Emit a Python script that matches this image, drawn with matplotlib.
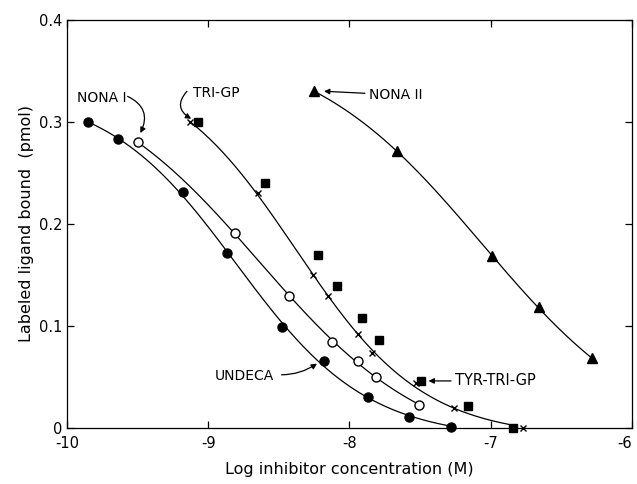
import numpy as np
import matplotlib
matplotlib.use('Agg')
import matplotlib.pyplot as plt

plt.rcParams['font.family'] = ['DejaVu Sans']
plt.rcParams['axes.unicode_minus'] = False

# UNDECA (filled circles)
undeca_x = [-9.85, -9.64, -9.18, -8.87, -8.48, -8.18, -7.87, -7.58, -7.28]
undeca_y = [0.300, 0.283, 0.231, 0.171, 0.099, 0.066, 0.030, 0.011, 0.001]

# NONA I (open circles)
nona1_x = [-9.50, -8.81, -8.43, -8.12, -7.94, -7.81, -7.51]
nona1_y = [0.280, 0.191, 0.129, 0.084, 0.066, 0.050, 0.022]

# TYR-TRI-GP (filled squares)
tyr_x = [-9.07, -8.60, -8.22, -8.09, -7.91, -7.79, -7.49, -7.16, -6.84]
tyr_y = [0.300, 0.240, 0.169, 0.139, 0.108, 0.086, 0.046, 0.021, 0.0]

# TRI-GP (crosses)
tri_x = [-9.13, -8.65, -8.26, -8.15, -7.94, -7.84, -7.53, -7.26, -6.77]
tri_y = [0.300, 0.230, 0.150, 0.129, 0.092, 0.073, 0.044, 0.019, 0.0]

# NONA II (filled triangles)
nona2_x = [-8.25, -7.66, -6.99, -6.66, -6.28]
nona2_y = [0.330, 0.271, 0.168, 0.118, 0.068]

x_ticks = [-10, -9, -8, -7, -6]
y_ticks = [0, 0.1, 0.2, 0.3, 0.4]
y_tick_labels = ['0', '0.1', '0.2', '0.3', '0.4']

fig = plt.figure(figsize=(6.37, 4.84), dpi=100)
ax = fig.add_axes([0.105, 0.116, 0.887, 0.843])


def logistic_fit(xs, ys, x0, x1):
    # 4-parameter logistic: grid over midpoint/slope, top & bottom by least squares
    xs = np.asarray(xs)
    ys = np.asarray(ys)
    best = None
    for mid in np.linspace(-10, -5, 251):
        for h in np.linspace(0.3, 3, 136):
            s = 1 / (1 + 10 ** (h * (xs - mid)))
            A = np.column_stack([s, np.ones_like(s)])
            p, *_ = np.linalg.lstsq(A, ys, rcond=None)
            err = np.sum((A @ p - ys) ** 2)
            if best is None or err < best[0]:
                best = (err, mid, h, p)
    _, mid, h, p = best
    xx = np.linspace(x0, x1, 200)
    return xx, p[0] / (1 + 10 ** (h * (xx - mid))) + p[1]


# smooth fitted curves
for xs, ys, x0, x1 in [(undeca_x, undeca_y, undeca_x[0], undeca_x[-1]),
                       (nona1_x, nona1_y, nona1_x[0], nona1_x[-1]),
                       (tri_x, tri_y, tri_x[0], tyr_x[-1]),
                       (nona2_x, nona2_y, nona2_x[0], nona2_x[-1])]:
    xx, yy = logistic_fit(xs, ys, x0, x1)
    ax.plot(xx, yy, color='black', lw=0.9)

# data markers
ax.plot(undeca_x, undeca_y, 'o', color='black', ms=6.5, zorder=3, clip_on=False)
ax.plot(nona1_x, nona1_y, 'o', mfc='white', mec='black', mew=1.0, ms=6.5, zorder=3)
ax.plot(tyr_x, tyr_y, 's', color='black', ms=6, zorder=3, clip_on=False)
ax.plot(tri_x, tri_y, 'x', color='black', ms=4.5, mew=1.0, zorder=3, clip_on=False)
ax.plot(nona2_x, nona2_y, '^', color='black', ms=7, zorder=3)

# labels with arrows
arr = dict(arrowstyle='-|>', color='black', lw=0.9, mutation_scale=8, shrinkA=0, shrinkB=0)
ax.text(-9.93, 0.323, 'NONA I', fontsize=10, ha='left', va='center')
ax.annotate('', xy=(-9.48, 0.289), xytext=(-9.57, 0.325),
            arrowprops=dict(arr, connectionstyle='arc3,rad=-0.5'))
ax.text(-9.11, 0.328, 'TRI-GP', fontsize=10, ha='left', va='center')
ax.annotate('', xy=(-9.12, 0.303), xytext=(-9.15, 0.330),
            arrowprops=dict(arr, connectionstyle='arc3,rad=0.6'))
ax.text(-7.86, 0.326, 'NONA II', fontsize=10, ha='left', va='center')
ax.annotate('', xy=(-8.18, 0.330), xytext=(-7.89, 0.328), arrowprops=arr)
ax.text(-8.95, 0.051, 'UNDECA', fontsize=10, ha='left', va='center')
ax.annotate('', xy=(-8.23, 0.063), xytext=(-8.48, 0.052),
            arrowprops=dict(arr, connectionstyle='arc3,rad=0.15'))
ax.text(-7.25, 0.046, 'TYR-TRI-GP', fontsize=10.5, ha='left', va='center')
ax.annotate('', xy=(-7.44, 0.046), xytext=(-7.28, 0.046), arrowprops=arr)

ax.set_xlim(-10, -6)
ax.set_ylim(0, 0.4)
ax.set_xticks(x_ticks)
ax.set_xticklabels([str(t) for t in x_ticks])
ax.get_xticklabels()[-1].set_horizontalalignment('right')
ax.set_yticks(y_ticks)
ax.set_yticklabels(y_tick_labels)
ax.tick_params(direction='in', top=True, right=True, labelsize=10.5, length=5, width=0.9)
ax.tick_params(axis='y', pad=3)
ax.tick_params(axis='x', pad=6)
for s in ax.spines.values():
    s.set_linewidth(0.9)
ax.set_xlabel('Log inhibitor concentration (M)', fontsize=11.5, labelpad=8)
ax.set_ylabel('Labeled ligand bound  (pmol)', fontsize=11.5, labelpad=4)

fig.savefig('out.png', dpi=100)
